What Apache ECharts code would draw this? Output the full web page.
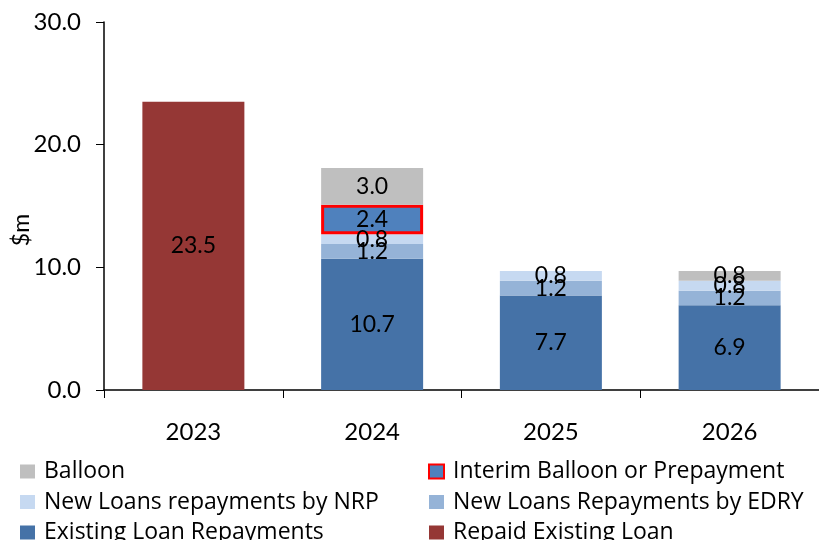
<!DOCTYPE html>
<html>
<head>
<meta charset="utf-8">
<script src="https://cdn.jsdelivr.net/npm/echarts@6/dist/echarts.min.js"></script>
<style>
    html, body { margin: 0; padding: 0; background: #fff; }
    #chart { width: 819px; height: 540px; }
</style>
</head>
<body>
<div id="chart"></div>
<script>
// years on the x axis
const years = ['2023', '2024', '2025', '2026'];

// stacked values ($m), bottom to top
const repaidExisting = [23.5, null, null, null];
const existingRepay = [null, 10.7, 7.7, 6.9];
const edryRepay = [null, 1.2, 1.2, 1.2];
const nrpRepay = [null, 0.8, 0.8, 0.8];
const interimBalloon = [null, 2.4, null, null];
const balloon = [null, 3.0, null, 0.8];

const FONT = 'Lato, "Open Sans", sans-serif';
const LEGEND_FONT = '"Open Sans", Lato, sans-serif';

const chart = echarts.init(document.getElementById('chart'));

const labelStyle = {
    show: true,
    position: 'inside',
    color: '#000',
    fontFamily: FONT,
    fontSize: 23,
    formatter: (p) => p.value.toFixed(1)
};

const makeSeries = (name, data, color, extra) => Object.assign({
    name: name,
    type: 'bar',
    stack: 'total',
    barWidth: 102,
    data: data,
    itemStyle: { color: color },
    label: labelStyle
}, extra || {});

const legendBase = {
    top: 460,
    orient: 'vertical',
    padding: 0,
    height: 150,
    itemWidth: 15,
    itemHeight: 14,
    itemGap: 7.5,
    icon: 'rect',
    textStyle: { color: '#000', fontFamily: LEGEND_FONT, fontSize: 23, padding: [0, 0, 0, 4] }
};

const option = {
    animation: false,
    textStyle: { fontFamily: FONT },
    grid: {
        left: 104,
        right: 0,
        top: 22,
        bottom: 150,
        containLabel: false,
        outerBoundsMode: 'none'
    },
    xAxis: {
        type: 'category',
        data: years,
        axisLine: { lineStyle: { color: '#000', width: 1.5 } },
        axisTick: { show: true, length: 8, lineStyle: { color: '#000' } },
        axisLabel: { color: '#000', fontSize: 24, margin: 30 }
    },
    yAxis: {
        type: 'value',
        min: 0,
        max: 30,
        interval: 10,
        name: '$m',
        nameLocation: 'middle',
        nameGap: 71,
        nameMoveOverlap: false,
        nameTextStyle: { color: '#000', fontSize: 23, padding: [0, 48, 0, 0] },
        splitLine: { show: false },
        axisLine: { show: true, lineStyle: { color: '#000', width: 1.5 } },
        axisTick: { show: true, length: 8, inside: false, lineStyle: { color: '#000' } },
        axisLabel: {
            color: '#000',
            fontSize: 24,
            margin: 23,
            formatter: (v) => v.toFixed(1)
        }
    },
    legend: [
        Object.assign({}, legendBase, {
            left: 20,
            data: ['Balloon', 'New Loans repayments by NRP', 'Existing Loan Repayments']
        }),
        Object.assign({}, legendBase, {
            left: 428,
            data: ['Interim Balloon or Prepayment', 'New Loans Repayments by EDRY', 'Repaid Existing Loan']
        })
    ],
    series: [
        makeSeries('Repaid Existing Loan', repaidExisting, '#953735'),
        makeSeries('Existing Loan Repayments', existingRepay, '#4572A7'),
        makeSeries('New Loans Repayments by EDRY', edryRepay, '#95B3D7'),
        makeSeries('New Loans repayments by NRP', nrpRepay, '#C6D9F1'),
        makeSeries('Interim Balloon or Prepayment', interimBalloon, '#4F81BD', {
            itemStyle: { color: '#4F81BD', borderColor: '#FF0000', borderWidth: 3 }
        }),
        makeSeries('Balloon', balloon, '#BFBFBF')
    ]
};

chart.setOption(option);
</script>
</body>
</html>
